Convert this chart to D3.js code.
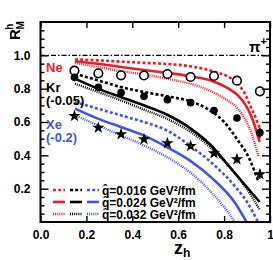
<!DOCTYPE html>
<html>
<head>
<meta charset="utf-8">
<script src="https://cdn.jsdelivr.net/npm/d3@7"></script>
<style>
	body { margin: 0; background: #fff; }
	svg { display: block; }
	text { font-family: "Liberation Sans", Arial, sans-serif; font-weight: bold; }
</style>
</head>
<body>
<figure id="chart" style="margin:0"></figure>
<script>
// measured points (z_h bins)
const zBins = [0.148, 0.252, 0.351, 0.451, 0.553, 0.654, 0.756, 0.856, 0.956];
const neData = [0.908, 0.892, 0.880, 0.879, 0.888, 0.870, 0.876, 0.848, 0.784];
const neErr = [0.012, 0.012, 0.012, 0.012, 0.012, 0.014, 0.016, 0.02, 0.03];
const krData = [0.868, 0.808, 0.776, 0.754, 0.734, 0.716, 0.669, 0.624, 0.536];
const krErr = [0.012, 0.012, 0.012, 0.012, 0.012, 0.014, 0.016, 0.02, 0.03];
const xeData = [0.636, 0.566, 0.526, 0.496, 0.472, 0.456, 0.412, 0.376, 0.286];
const xeErr = [0.012, 0.012, 0.012, 0.012, 0.012, 0.014, 0.016, 0.02, 0.026];

// model curves [z, R] for qhat = 0.016 / 0.024 / 0.032
const neQ016 = [[0.15,0.975],[0.25,0.97],[0.35,0.962],[0.45,0.955],[0.55,0.948],[0.65,0.935],[0.75,0.905],[0.82,0.87],[0.86,0.83],[0.89,0.77],[0.92,0.68],[0.945,0.6],[0.962,0.54]];
const neQ024 = [[0.15,0.965],[0.25,0.95],[0.35,0.93],[0.45,0.912],[0.55,0.895],[0.65,0.875],[0.75,0.845],[0.82,0.80],[0.86,0.76],[0.89,0.71],[0.92,0.63],[0.955,0.48]];
const neQ032 = [[0.15,0.955],[0.25,0.93],[0.35,0.905],[0.45,0.885],[0.55,0.86],[0.65,0.83],[0.75,0.78],[0.82,0.725],[0.86,0.68],[0.89,0.62],[0.92,0.53],[0.95,0.39]];
const krQ016 = [[0.15,0.89],[0.25,0.85],[0.35,0.81],[0.45,0.78],[0.55,0.755],[0.65,0.725],[0.72,0.685],[0.8,0.6],[0.86,0.49],[0.91,0.38],[0.95,0.24]];
const krQ024 = [[0.15,0.86],[0.25,0.80],[0.35,0.75],[0.45,0.70],[0.55,0.645],[0.65,0.565],[0.75,0.45],[0.8,0.37],[0.88,0.24],[0.955,0.12]];
const krQ032 = [[0.15,0.83],[0.25,0.78],[0.35,0.73],[0.45,0.675],[0.55,0.62],[0.65,0.545],[0.75,0.435],[0.82,0.335],[0.88,0.235],[0.955,0.075]];
const xeQ016 = [[0.15,0.72],[0.25,0.68],[0.35,0.64],[0.45,0.60],[0.55,0.55],[0.65,0.46],[0.75,0.35],[0.85,0.21],[0.9,0.12],[0.948,0.0]];
const xeQ024 = [[0.15,0.68],[0.25,0.62],[0.35,0.57],[0.45,0.52],[0.55,0.45],[0.65,0.37],[0.75,0.26],[0.85,0.11],[0.898,0.0]];
const xeQ032 = [[0.15,0.64],[0.25,0.58],[0.35,0.52],[0.45,0.46],[0.55,0.39],[0.65,0.30],[0.75,0.17],[0.8,0.09],[0.847,0.0]];

const xTicks = [0, 0.2, 0.4, 0.6, 0.8, 1.0];
const yTicks = [0.2, 0.4, 0.6, 0.8, 1.0];
const legendLabels = ["q\u0302=0.016 GeV\u00b2/fm", "q\u0302=0.024 GeV\u00b2/fm", "q\u0302=0.032 GeV\u00b2/fm"];

const W = 273, H = 260;
const margin = { top: 22, bottom: 38, left: 40.5, right: 3 };

const svg = d3.select("figure#chart").append("svg").attr("width", W).attr("height", H);

const xScale = d3.scaleLinear().domain([0, 1]).range([margin.left, W - margin.right]);
const yScale = d3.scaleLinear().domain([0, 1.2]).range([H - margin.bottom, margin.top]);

const colRed = "#ee1c24", colBlack = "#000", colBlue = "#3f57e8";
const styles = [
	{ width: 2.6, dash: "3,2.2" },   // 0.016
	{ width: 2.6, dash: null },      // 0.024
	{ width: 2.4, dash: "1,1.1" }    // 0.032
];

// pi+ reference line at 1
svg.append("line")
	.attr("x1", xScale(0)).attr("x2", xScale(1))
	.attr("y1", yScale(1)).attr("y2", yScale(1))
	.attr("stroke", "#000").attr("stroke-width", 1.4)
	.attr("stroke-dasharray", "5,2,1.5,2");

// curves
const line = d3.line().x(d => xScale(d[0])).y(d => yScale(d[1])).curve(d3.curveMonotoneX);
const curveSets = [
	[neQ016, neQ024, neQ032, colRed],
	[krQ016, krQ024, krQ032, colBlack],
	[xeQ016, xeQ024, xeQ032, colBlue]
];
curveSets.forEach(set => {
	for (let i = 0; i < 3; i++) {
		svg.append("path").attr("d", line(set[i]))
			.attr("fill", "none").attr("stroke", set[3])
			.attr("stroke-width", styles[i].width)
			.attr("stroke-dasharray", styles[i].dash);
	}
});

// error bars
function errBars(vals, errs, color) {
	svg.append("g").selectAll("line").data(vals).enter().append("line")
		.attr("x1", (d, i) => xScale(zBins[i])).attr("x2", (d, i) => xScale(zBins[i]))
		.attr("y1", (d, i) => yScale(d - errs[i])).attr("y2", (d, i) => yScale(d + errs[i]))
		.attr("stroke", color).attr("stroke-width", 1.5);
}
errBars(neData, neErr, colRed);
errBars(krData, krErr, colBlack);
errBars(xeData, xeErr, colBlack);

// markers
svg.append("g").selectAll("circle").data(neData).enter().append("circle")
	.attr("cx", (d, i) => xScale(zBins[i])).attr("cy", d => yScale(d))
	.attr("r", 4.3).attr("fill", "#fff").attr("stroke", "#000").attr("stroke-width", 1.6);
svg.append("g").selectAll("circle").data(krData).enter().append("circle")
	.attr("cx", (d, i) => xScale(zBins[i])).attr("cy", d => yScale(d))
	.attr("r", 3.8).attr("fill", "#000");
const star = d3.symbol().type(d3.symbolStar).size(48);
svg.append("g").selectAll("path").data(xeData).enter().append("path")
	.attr("d", star)
	.attr("transform", (d, i) => "translate(" + xScale(zBins[i]) + "," + yScale(d) + ")")
	.attr("fill", "#000");

// axes (ticks pointing inward, ROOT style)
const x0 = xScale(0), x1 = xScale(1), y0 = yScale(0), y1 = yScale(1.2);
const yMinor = d3.range(0.05, 1.2, 0.05).filter(v => Math.abs(v / 0.2 - Math.round(v / 0.2)) > 0.01);

const leftAxis = svg.append("g").attr("transform", "translate(" + x0 + ",0)")
	.call(d3.axisLeft(yScale).tickValues(yTicks).tickSize(-8).tickPadding(10).tickFormat(d3.format(".1f")));
const leftMinor = svg.append("g").attr("transform", "translate(" + x0 + ",0)")
	.call(d3.axisLeft(yScale).tickValues(yMinor).tickSize(-4).tickFormat(""));
const rightAxis = svg.append("g").attr("transform", "translate(" + x1 + ",0)")
	.call(d3.axisRight(yScale).tickValues(yTicks).tickSize(-8).tickFormat(""));
const rightMinor = svg.append("g").attr("transform", "translate(" + x1 + ",0)")
	.call(d3.axisRight(yScale).tickValues(yMinor).tickSize(-4).tickFormat(""));
const bottomAxis = svg.append("g").attr("transform", "translate(0," + y0 + ")")
	.call(d3.axisBottom(xScale).tickValues(xTicks).tickSize(-6).tickPadding(8)
		.tickFormat(d => d === 1 ? "1" : d3.format(".1f")(d)));
const topAxis = svg.append("g").attr("transform", "translate(0," + y1 + ")")
	.call(d3.axisTop(xScale).tickValues(xTicks).tickSize(-6).tickFormat(""));

[leftAxis, leftMinor, rightAxis, rightMinor, bottomAxis, topAxis].forEach(a => {
	a.select(".domain").remove();
	a.selectAll(".tick line").attr("stroke", "#000").attr("stroke-width", 1.4);
	a.selectAll(".tick text").attr("font-size", 12).attr("font-family", "Liberation Sans, Arial, sans-serif")
		.attr("font-weight", "bold").attr("fill", "#000");
});

svg.append("rect").attr("x", x0).attr("y", y1).attr("width", x1 - x0).attr("height", y0 - y1)
	.attr("fill", "none").attr("stroke", "#000").attr("stroke-width", 2);

// axis titles
const yTitle = svg.append("text").attr("transform", "translate(20,40) rotate(-90)")
	.attr("font-size", 15).attr("fill", "#000");
yTitle.append("tspan").text("R");
yTitle.append("tspan").attr("font-size", 10).attr("dy", -7).attr("dx", -0.5).text("h");
yTitle.append("tspan").attr("font-size", 10).attr("dx", -6).attr("dy", 11).text("M");

const xTitle = svg.append("text").attr("x", 174).attr("y", 254)
	.attr("font-family", "Liberation Serif, Times New Roman, serif").attr("font-size", 18).attr("fill", "#000");
xTitle.append("tspan").text("z");
xTitle.append("tspan").attr("font-size", 12).attr("dy", 3).text("h");

// π+ label
const piLabel = svg.append("text").attr("x", 249).attr("y", 52)
	.attr("font-family", "Liberation Serif, Times New Roman, serif").attr("font-weight", "normal")
	.attr("font-size", 15).attr("fill", "#000");
piLabel.append("tspan").text("π");
piLabel.append("tspan").attr("font-size", 11).attr("dy", -7).attr("font-family", "Liberation Sans, Arial, sans-serif").text("+");

// nucleus labels
const nucLabels = [
	{ t: "Ne", y: 72, c: colRed },
	{ t: "Kr", y: 92, c: colBlack },
	{ t: "(-0.05)", y: 105, c: colBlack },
	{ t: "Xe", y: 129, c: colBlue },
	{ t: "(-0.2)", y: 142, c: colBlue }
];
svg.append("g").selectAll("text").data(nucLabels).enter().append("text")
	.attr("x", 46).attr("y", d => d.y).attr("font-size", 13).attr("fill", d => d.c).text(d => d.t);

// legend
const legendColors = [colRed, colBlack, colBlue];
const lg = svg.append("g");
legendLabels.forEach((lab, i) => {
	const ly = 190 + i * 12;
	legendColors.forEach((c, j) => {
		lg.append("line").attr("x1", 53 + j * 17).attr("x2", 65 + j * 17)
			.attr("y1", ly).attr("y2", ly)
			.attr("stroke", c).attr("stroke-width", styles[i].width)
			.attr("stroke-dasharray", styles[i].dash);
	});
	lg.append("text").attr("x", 102).attr("y", ly + 4.5).attr("font-size", 12).attr("fill", "#000").text(lab);
});
</script>
</body>
</html>
